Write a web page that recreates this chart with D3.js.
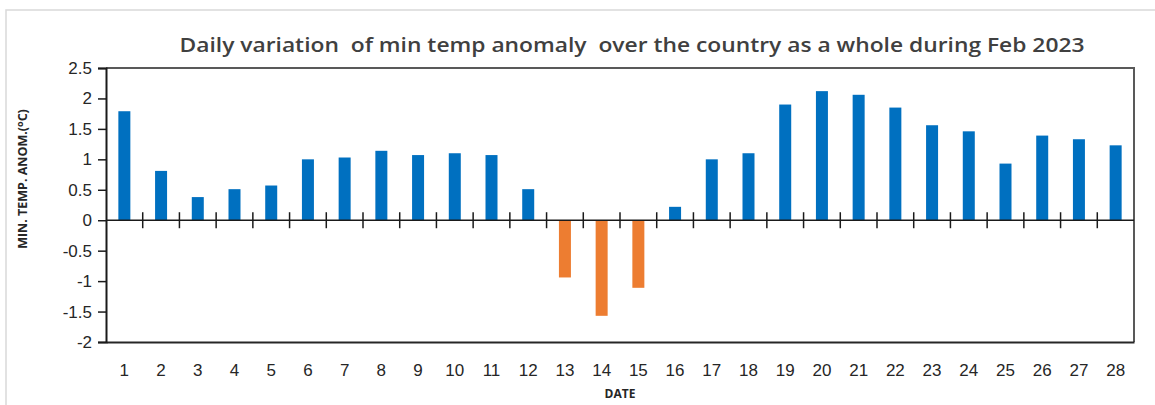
<!DOCTYPE html>
<html lang="en">
<head>
<meta charset="UTF-8">
<title>Min temp anomaly Feb 2023</title>
<script src="https://cdn.jsdelivr.net/npm/d3@7"></script>
<style>
    body { margin: 0; background: #fff; }
    svg { display: block; font-family: "Open Sans", "Liberation Sans", sans-serif; }
</style>
</head>
<body>
<svg width="1155" height="405"></svg>
<script>
    var dates = d3.range(1, 29).map(String);
    var anomaly = [1.79, 0.81, 0.38, 0.51, 0.57, 1.0, 1.03, 1.14, 1.07, 1.1,
        1.07, 0.51, -0.94, -1.57, -1.11, 0.22, 1.0, 1.1, 1.9, 2.12,
        2.06, 1.85, 1.56, 1.46, 0.93, 1.39, 1.33, 1.23];
    var yTicks = [2.5, 2, 1.5, 1, 0.5, 0, -0.5, -1, -1.5, -2];

    var svg = d3.select("svg");
    var margin = { top: 68, right: 21, bottom: 63, left: 106 };
    var width = 1155 - margin.left - margin.right;
    var height = 405 - margin.top - margin.bottom;

    // outer chart frame
    svg.append("rect")
        .attr("x", 6).attr("y", 10)
        .attr("width", 1170).attr("height", 420)
        .attr("fill", "none").attr("stroke", "#d9d9d9").attr("stroke-width", 1.5);

    svg.append("text")
        .attr("x", 632).attr("y", 52)
        .attr("text-anchor", "middle")
        .attr("xml:space", "preserve")
        .attr("textLength", 905).attr("lengthAdjust", "spacingAndGlyphs")
        .style("font-size", "19px").style("font-weight", 600).style("fill", "#404040")
        .text("Daily variation  of min temp anomaly  over the country as a whole during Feb 2023");

    var g = svg.append("g").attr("transform", "translate(" + margin.left + "," + margin.top + ")");

    var x = d3.scaleBand().domain(dates).range([0, width]);
    var y = d3.scaleLinear().domain([-2, 2.5]).range([height, 0]);

    // frame top/right
    g.append("path")
        .attr("d", "M0,0H" + width + "V" + height)
        .attr("fill", "none").attr("stroke", "#595959").attr("stroke-width", 2);

    g.selectAll(".bar")
        .data(anomaly)
        .enter().append("rect")
        .attr("class", "bar")
        .attr("x", function (d, i) { return x(dates[i]) + x.bandwidth() / 2 - 6; })
        .attr("width", 12)
        .attr("y", function (d) { return y(Math.max(0, d)); })
        .attr("height", function (d) { return Math.abs(y(d) - y(0)); })
        .attr("fill", function (d) { return d < 0 ? "#ED7D31" : "#0070C0"; });

    // bottom axis with labels
    var xAxis = g.append("g")
        .attr("transform", "translate(0," + height + ")")
        .call(d3.axisBottom(x).tickSize(0).tickPadding(22));
    xAxis.select(".domain").attr("stroke", "#262626").attr("stroke-width", 2);
    xAxis.selectAll("text").style("font-size", "17px").style("fill", "#262626");

    // zero line with crossing ticks at category boundaries
    g.append("line")
        .attr("x1", 0).attr("x2", width)
        .attr("y1", y(0)).attr("y2", y(0))
        .attr("stroke", "#1a1a1a").attr("stroke-width", 1.5);
    g.selectAll(".zt")
        .data(dates.slice(1))
        .enter().append("line")
        .attr("class", "zt")
        .attr("x1", function (d) { return x(d); }).attr("x2", function (d) { return x(d); })
        .attr("y1", y(0) - 8).attr("y2", y(0) + 8)
        .attr("stroke", "#1a1a1a").attr("stroke-width", 1.5);

    var yAxis = g.append("g")
        .call(d3.axisLeft(y).tickValues(yTicks).tickSize(8).tickPadding(6)
            .tickFormat(function (d) { return String(d); }));
    yAxis.select(".domain").attr("stroke", "#1a1a1a").attr("stroke-width", 2);
    yAxis.selectAll(".tick line").attr("stroke", "#1a1a1a").attr("stroke-width", 1.5);
    yAxis.selectAll("text").style("font-size", "17px").style("fill", "#262626");

    svg.append("text")
        .attr("transform", "translate(27,179) rotate(-90)")
        .attr("text-anchor", "middle")
        .style("font-size", "12.5px").style("font-weight", "bold").style("fill", "#262626")
        .html("MIN. TEMP. ANOM.(<tspan dy='-4' font-size='9px'>o</tspan><tspan dy='4'>C)</tspan>");

    svg.append("text")
        .attr("x", 620).attr("y", 398)
        .attr("text-anchor", "middle")
        .style("font-size", "12px").style("font-weight", "bold").style("fill", "#262626")
        .text("DATE");
</script>
</body>
</html>
